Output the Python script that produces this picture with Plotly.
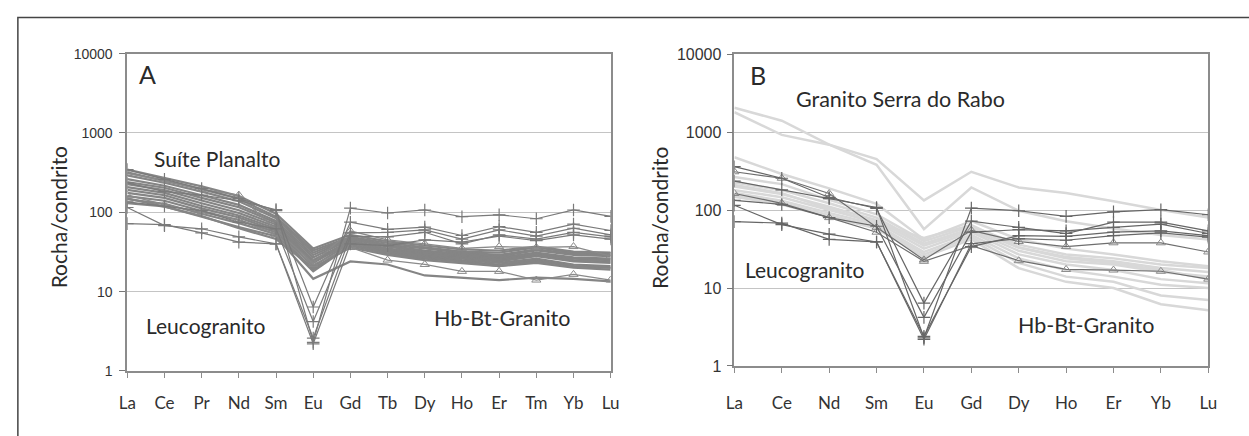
import plotly.graph_objects as go

# ---------------- categories ----------------
ree_a = ["La", "Ce", "Pr", "Nd", "Sm", "Eu", "Gd", "Tb", "Dy", "Ho", "Er", "Tm", "Yb", "Lu"]
ree_b = ["La", "Ce", "Nd", "Sm", "Eu", "Gd", "Dy", "Ho", "Er", "Yb", "Lu"]
y_tickvals = [1, 10, 100, 1000, 10000]
y_ticktext = ["1", "10", "100", "1000", "10000"]

# ---------------- Panel A: Suíte Planalto (band, no markers) ----------------
sp_01 = [345, 268, 212, 160, 96, 35, 52, 43, 38, 34, 33, 37, 32, 31]
sp_02 = [318, 250, 196, 148, 88, 33, 49, 41, 36, 32, 31, 36, 31, 30]
sp_03 = [292, 236, 182, 138, 84, 31, 48, 39, 35, 31, 29, 34, 30, 29]
sp_04 = [262, 216, 164, 124, 78, 29, 47, 38, 33, 30, 28, 33, 29, 28]
sp_05 = [240, 204, 152, 116, 74, 27, 46, 37, 32, 29, 27, 31, 27, 26]
sp_06 = [226, 190, 141, 106, 70, 25, 44, 35, 31, 28, 26, 30, 26, 25]
sp_07 = [208, 176, 130, 98, 66, 24, 43, 34, 30, 27, 25, 29, 25, 24]
sp_08 = [192, 164, 120, 91, 62, 23, 42, 33, 29, 26, 24, 28, 24, 23]
sp_09 = [176, 152, 112, 86, 59, 21, 41, 32, 28, 25, 23, 26, 22, 21]
sp_10 = [160, 140, 104, 80, 56, 19, 39, 31, 27, 24, 22, 25, 21, 20]
sp_11 = [146, 128, 96, 73, 53, 18, 38, 30, 26, 24, 21, 24, 21, 20]
sp_12 = [150, 118, 90, 63, 46, 20, 36, 29, 25, 23, 21, 23, 20, 19]
sp_13 = [130, 119, 88, 65, 50, 14.5, 24, 22, 16, 15, 14, 15, 14.5, 13.5]

# Panel A: Leucogranito (+ markers)
leuco_a1 = [235, 182, 165, 140, 108, 2.3, 113, 98, 107, 88, 93, 83, 107, 89]
leuco_a2 = [345, 260, 200, 150, 105, 6.4, 75, 61, 65, 51, 66, 56, 71, 59]
leuco_a3 = [135, 120, 105, 75, 62, 4.2, 55, 56, 60, 46, 60, 50, 63, 52]
leuco_a4 = [115, 68, 62, 49, 40, 2.6, 50, 49, 56, 40, 52, 46, 56, 49]
leuco_a5 = [72, 70, 55, 42, 40, 2.2, 40, 38, 45, 42, 50, 44, 52, 46]

# Panel A: Hb-Bt-Granito (triangle markers)
hbbt_a1 = [310, 250, 195, 165, 60, 23, 58, 45, 40, 35, 37, 36, 37, 28]
hbbt_a2 = [165, 125, 100, 80, 52, 22, 36, 25, 22, 18, 18, 14, 16.5, 14]

# ---------------- Panel B: Granito Serra do Rabo (light grey) ----------------
gsr_01 = [2050, 1400, 690, 450, 133, 310, 195, 165, 130, 100, 80]
gsr_02 = [1800, 920, 690, 380, 57, 195, 98, 72, 58, 48, 42]
gsr_03 = [475, 290, 190, 120, 42, 72, 42, 32, 27, 22, 19]
gsr_04 = [265, 215, 135, 88, 40, 62, 36, 27, 24, 20, 18]
gsr_05 = [225, 180, 122, 80, 37, 58, 33, 25, 22, 18, 16]
gsr_06 = [200, 160, 110, 74, 35, 55, 30, 22, 20, 16, 14]
gsr_07 = [180, 146, 100, 70, 32, 52, 27, 20, 17, 13, 11.5]
gsr_08 = [165, 132, 92, 65, 29, 48, 24, 17, 14, 11, 10]
gsr_09 = [155, 124, 86, 61, 27, 45, 21, 14, 12, 8, 7]
gsr_10 = [148, 118, 82, 58, 25, 42, 18, 12, 10, 6.2, 5.2]
gsr_11 = [210, 165, 104, 68, 44, 64, 33, 24, 21, 17, 13]

# Panel B: Leucogranito (+) and Hb-Bt-Granito (triangles)
leuco_b1 = [235, 182, 140, 108, 2.3, 106, 98, 83, 95, 101, 87]
leuco_b2 = [360, 256, 145, 105, 6.4, 72, 60, 50, 70, 70, 54]
leuco_b3 = [133, 118, 80, 62, 4.2, 52, 56, 54, 60, 66, 50]
leuco_b4 = [115, 65, 49, 39, 2.4, 34, 47, 46, 52, 54, 47]
leuco_b5 = [71, 68, 42, 39, 2.2, 37, 43, 41, 47, 51, 45]
hbbt_b1 = [310, 256, 163, 60, 23, 55, 39.5, 34, 38, 38, 29]
hbbt_b2 = [163, 122, 80, 52, 22, 35, 22.4, 17.3, 17, 16.4, 13]

W, H = 1249, 436
def px(x):
    return x / W
def py(y):
    return 1 - y / H

fig = go.Figure()

band_a = [sp_01, sp_02, sp_03, sp_04, sp_05, sp_06, sp_07, sp_08, sp_09, sp_10,
          sp_11, sp_12, sp_13]
for s in band_a:
    fig.add_trace(go.Scatter(x=ree_a, y=s, mode="lines", xaxis="x", yaxis="y",
                             line=dict(color="#858585", width=2.2), hoverinfo="skip"))
for s in [hbbt_a1, hbbt_a2]:
    fig.add_trace(go.Scatter(x=ree_a, y=s, mode="lines+markers", xaxis="x", yaxis="y",
                             line=dict(color="#8a8a8a", width=1.3),
                             marker=dict(symbol="triangle-up-open", size=8, color="#8a8a8a",
                                         line=dict(width=1, color="#8a8a8a"))))
for s in [leuco_a1, leuco_a2, leuco_a3, leuco_a4, leuco_a5]:
    fig.add_trace(go.Scatter(x=ree_a, y=s, mode="lines+markers", xaxis="x", yaxis="y",
                             line=dict(color="#7a7a7a", width=1.2),
                             marker=dict(symbol="cross-thin-open", size=9, color="#7a7a7a",
                                         line=dict(width=1.2, color="#7a7a7a"))))

gsr_b = [gsr_01, gsr_02, gsr_03, gsr_04, gsr_05, gsr_06, gsr_07, gsr_08, gsr_09, gsr_10, gsr_11]
for s in gsr_b:
    fig.add_trace(go.Scatter(x=ree_b, y=s, mode="lines", xaxis="x2", yaxis="y2",
                             line=dict(color="#d8d8d8", width=2.5), hoverinfo="skip"))
for s in [hbbt_b1, hbbt_b2]:
    fig.add_trace(go.Scatter(x=ree_b, y=s, mode="lines+markers", xaxis="x2", yaxis="y2",
                             line=dict(color="#6e6e6e", width=1.2),
                             marker=dict(symbol="triangle-up-open", size=8, color="#8a8a8a",
                                         line=dict(width=1, color="#8a8a8a"))))
for s in [leuco_b1, leuco_b2, leuco_b3, leuco_b4, leuco_b5]:
    fig.add_trace(go.Scatter(x=ree_b, y=s, mode="lines+markers", xaxis="x2", yaxis="y2",
                             line=dict(color="#666666", width=1.2),
                             marker=dict(symbol="cross-thin-open", size=9, color="#666666",
                                         line=dict(width=1.2, color="#666666"))))

tick_font_x = dict(family="Lato, sans-serif", size=17, color="#333333")
common_x = dict(type="category", showgrid=False, showline=True, mirror=True,
                linecolor="#8c8c8c", linewidth=1.6, ticks="outside", ticklen=5,
                tickcolor="#8c8c8c", tickwidth=1.2, tickfont=tick_font_x, zeroline=False)
common_y = dict(type="log", range=[0, 4], tickvals=y_tickvals, ticktext=y_ticktext,
                showgrid=True, gridcolor="#c4c4c4", gridwidth=1.2,
                showline=True, mirror=True, linecolor="#8c8c8c", linewidth=1.6,
                ticks="outside", ticklen=6, tickcolor="#777777", tickwidth=1.2, zeroline=False)

fig.update_layout(
    width=W, height=H,
    margin=dict(l=0, r=0, t=0, b=0),
    paper_bgcolor="white", plot_bgcolor="white",
    showlegend=False,
    xaxis=dict(common_x, domain=[px(120), px(610.5)], anchor="y",
               range=[0, len(ree_a) - 1], categoryorder="array", categoryarray=ree_a,
               ticklabelstandoff=11),
    yaxis=dict(common_y, domain=[py(377.7), py(47.5)], anchor="x",
               tickfont=dict(family="Liberation Sans, Arial, sans-serif", size=14, color="#333333"),
               ticklabelstandoff=4),
    xaxis2=dict(common_x, domain=[px(736), px(1216.8)], anchor="y2",
                range=[0, len(ree_b) - 1], categoryorder="array", categoryarray=ree_b,
                ticklabelstandoff=16),
    yaxis2=dict(common_y, domain=[py(372.5), py(48)], anchor="x2",
                tickfont=dict(family="Liberation Sans, Arial, sans-serif", size=16, color="#333333"),
                ticklabelstandoff=2),
)

txt = dict(family="Lato, sans-serif", color="#2a2a2a")
annos = [
    ("A", 130, 69, 25, "left", 0),
    ("Suíte Planalto", 145, 157, 21, "left", 0),
    ("Leucogranito", 137, 330, 21, "left", 0),
    ("Hb-Bt-Granito", 429, 323, 21.5, "left", 0),
    ("Rocha/condrito", 50.6, 218, 21, "center", -90),
    ("B", 750, 70, 25, "left", 0),
    ("Granito Serra do Rabo", 796, 95, 21.5, "left", 0),
    ("Leucogranito", 745, 272, 21, "left", 0),
    ("Hb-Bt-Granito", 1022, 330, 21.5, "left", 0),
    ("Rocha/condrito", 660, 218, 21, "center", -90),
]
for text, x, y, size, xa, ang in annos:
    fig.add_annotation(text=text, x=px(x), y=py(y), xref="paper", yref="paper",
                       xanchor=xa, yanchor="middle", showarrow=False, textangle=ang,
                       font=dict(txt, size=size))

# outer frame
fig.add_shape(type="rect", xref="paper", yref="paper",
              x0=px(9), x1=1.05, y0=-0.05, y1=py(10),
              line=dict(color="#444444", width=1.5))

fig.write_html("out.html")
